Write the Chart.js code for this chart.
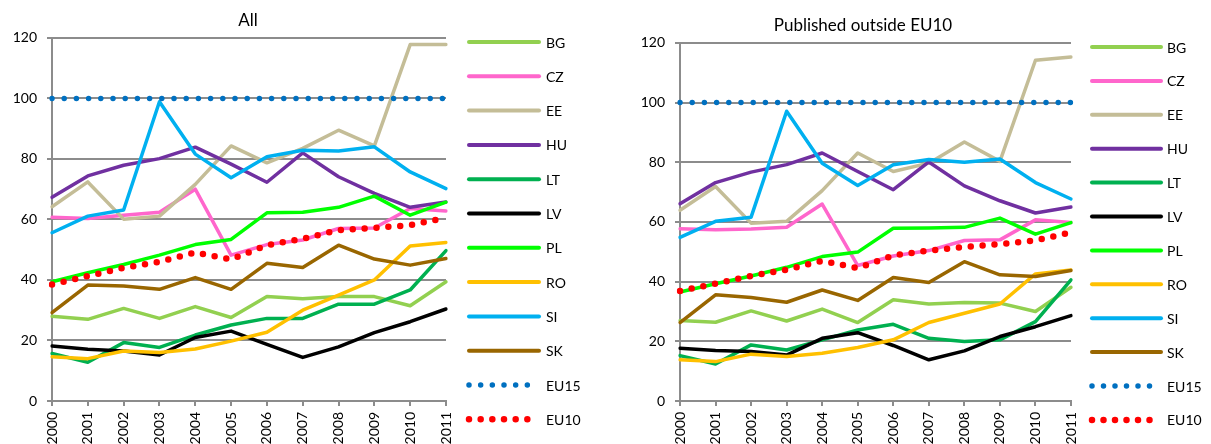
<!DOCTYPE html>
<html>
<head>
<meta charset="utf-8">
<script src="https://cdn.jsdelivr.net/npm/chart.js@4/dist/chart.umd.min.js"></script>
<style>
  html, body { margin: 0; padding: 0; background: #fff; }
  #wrap { position: relative; width: 1211px; height: 444px; overflow: hidden; }
  #wrap canvas { position: absolute; top: 0; }
</style>
</head>
<body>
<div id="wrap">
  <canvas id="cAll" width="605" height="444" style="left:0"></canvas>
  <canvas id="cOut" width="606" height="444" style="left:605px"></canvas>
</div>
<script>
// Years on the category axis
const years = ['2000','2001','2002','2003','2004','2005','2006','2007','2008','2009','2010','2011'];
const seriesNames = ['BG','CZ','EE','HU','LT','LV','PL','RO','SI','SK','EU15','EU10'];
const yTicks = [0, 20, 40, 60, 80, 100, 120];

// Panel "All"
const allBG   = [28.0, 27.0, 30.6, 27.3, 31.2, 27.6, 34.5, 33.8, 34.5, 34.5, 31.5, 39.4];
const allCZ   = [60.7, 60.3, 61.4, 62.4, 70.0, 48.2, 51.7, 53.2, 57.0, 57.2, 63.6, 62.8];
const allEE   = [64.2, 72.4, 60.1, 61.1, 71.6, 84.3, 78.7, 83.5, 89.5, 84.3, 117.8, 117.8];
const allHU   = [67.3, 74.4, 77.9, 80.1, 83.9, 78.3, 72.3, 82.0, 74.1, 68.6, 64.0, 65.8];
const allLT   = [15.7, 12.8, 19.3, 17.7, 21.8, 25.1, 27.3, 27.3, 32.0, 32.0, 36.7, 49.7];
const allLV   = [18.2, 17.1, 16.5, 15.2, 21.0, 23.1, 18.7, 14.4, 17.9, 22.6, 26.2, 30.4];
const allPL   = [39.4, 42.4, 45.1, 48.2, 51.7, 53.4, 62.2, 62.4, 64.0, 67.7, 61.4, 65.7];
const allRO   = [14.6, 14.0, 16.5, 16.0, 17.2, 19.8, 22.7, 30.0, 35.0, 40.0, 51.2, 52.4];
const allSI   = [55.6, 61.1, 63.1, 98.9, 81.6, 73.8, 80.7, 82.9, 82.6, 84.0, 75.7, 70.2];
const allSK   = [29.2, 38.3, 38.0, 36.9, 40.8, 36.9, 45.5, 44.1, 51.5, 46.9, 44.9, 47.1];
const allEU15 = [100, 100, 100, 100, 100, 100, 100, 100, 100, 100, 100, 100];
const allEU10 = [38.5, 41.3, 44.0, 46.0, 49.1, 46.8, 51.5, 53.6, 56.5, 57.2, 58.1, 60.6];

// Panel "Published outside EU10"
const outBG   = [27.0, 26.4, 30.2, 26.8, 30.8, 26.3, 33.9, 32.5, 33.0, 32.8, 30.0, 38.1];
const outCZ   = [57.7, 57.4, 57.6, 58.2, 66.0, 45.4, 48.6, 50.4, 53.8, 54.0, 60.7, 59.8];
const outEE   = [63.9, 71.9, 59.6, 60.2, 70.5, 83.1, 76.9, 79.7, 86.8, 80.3, 114.2, 115.3];
const outHU   = [66.1, 73.2, 76.7, 79.2, 83.1, 76.9, 70.8, 80.1, 72.1, 67.1, 63.0, 65.0];
const outLT   = [15.2, 12.4, 18.8, 17.1, 20.5, 23.8, 25.7, 21.0, 19.9, 20.5, 26.6, 40.6];
const outLV   = [17.7, 16.9, 16.6, 15.4, 21.0, 22.9, 18.6, 13.8, 16.8, 21.6, 24.9, 28.6];
const outPL   = [36.5, 39.3, 41.9, 44.8, 48.4, 49.9, 57.9, 58.0, 58.2, 61.3, 55.9, 59.8];
const outRO   = [13.8, 13.2, 15.7, 14.9, 16.0, 17.9, 20.5, 26.3, 29.4, 32.5, 42.6, 43.9];
const outSI   = [54.8, 60.2, 61.6, 97.1, 79.7, 72.2, 79.2, 80.9, 80.0, 81.1, 73.2, 67.7];
const outSK   = [26.3, 35.6, 34.7, 33.1, 37.2, 33.7, 41.4, 39.7, 46.7, 42.3, 41.7, 43.7];
const outEU15 = [100, 100, 100, 100, 100, 100, 100, 100, 100, 100, 100, 100];
const outEU10 = [36.9, 39.3, 41.9, 44.0, 47.0, 44.5, 48.8, 50.4, 51.6, 52.6, 53.8, 56.5];

const allValues = [allBG, allCZ, allEE, allHU, allLT, allLV, allPL, allRO, allSI, allSK, allEU15, allEU10];
const outValues = [outBG, outCZ, outEE, outHU, outLT, outLV, outPL, outRO, outSI, outSK, outEU15, outEU10];

const palette = {
  BG: '#92D050', CZ: '#FF66CC', EE: '#C4BD97', HU: '#7030A0', LT: '#00B050', LV: '#000000',
  PL: '#00FF00', RO: '#FFC000', SI: '#00B0F0', SK: '#996600', EU15: '#0070C0', EU10: '#FF0000'
};
const dotted = { EU15: { width: 5.5, gap: 12.2 }, EU10: { width: 6.5, gap: 11.9 } };

const FONT = "Lato, 'Open Sans', sans-serif";
const GRID = '#8c8c8c';

function buildDatasets(values) {
  return seriesNames.map((name, i) => {
    const d = dotted[name];
    return {
      label: name,
      data: values[i],
      borderColor: palette[name],
      backgroundColor: palette[name],
      borderWidth: d ? d.width : 3.5,
      borderDash: d ? [0, d.gap] : [],
      borderCapStyle: 'round',
      borderJoinStyle: 'round',
      pointRadius: 0,
      pointHoverRadius: 0,
      tension: 0,
      fill: false,
      order: -i
    };
  });
}

// Legend column drawn beside the plot: line sample + series name per row
const sideLegend = {
  id: 'sideLegend',
  afterDraw(chart, args, opts) {
    const ctx = chart.ctx;
    ctx.save();
    chart.data.datasets.forEach((ds, i) => {
      const y = opts.y0 + i * opts.dy;
      ctx.beginPath();
      ctx.strokeStyle = ds.borderColor;
      ctx.lineCap = 'round';
      if (ds.borderDash && ds.borderDash.length) {
        const span = opts.x1 - opts.x0;
        ctx.lineWidth = ds.borderWidth;
        ctx.setLineDash([0, span / 6]);
      } else {
        ctx.lineWidth = 4;
        ctx.setLineDash([]);
      }
      ctx.moveTo(opts.x0, y);
      ctx.lineTo(opts.x1, y);
      ctx.stroke();
      ctx.setLineDash([]);
      ctx.fillStyle = '#000';
      ctx.font = '14px ' + FONT;
      ctx.textBaseline = 'middle';
      ctx.textAlign = 'left';
      ctx.fillText(ds.label, opts.tx, y + 1);
    });
    ctx.restore();
  }
};

// Places the title block so its text is centred on a given x
const titleCentre = {
  id: 'titleCentre',
  afterLayout(chart, args, opts) {
    const tb = chart.titleBlock;
    if (!tb || opts.x == null) return;
    const half = (tb.right - tb.left) / 2;
    tb.left = opts.x - half;
    tb.right = opts.x + half;
  }
};

function makeChart(id, title, values, cfg) {
  return new Chart(document.getElementById(id), {
    type: 'line',
    data: { labels: years, datasets: buildDatasets(values) },
    plugins: [titleCentre, sideLegend],
    options: {
      responsive: false,
      devicePixelRatio: 1,
      animation: false,
      events: [],
      layout: { padding: { left: cfg.padLeft, right: cfg.padRight, top: 0, bottom: 0 } },
      plugins: {
        legend: { display: false },
        tooltip: { enabled: false },
        title: {
          display: true,
          text: title,
          color: '#000',
          font: { family: FONT, size: 17, weight: 'normal', lineHeight: 1.2 },
          padding: cfg.titlePad
        },
        titleCentre: { x: cfg.titleX },
        sideLegend: cfg.legend
      },
      scales: {
        x: {
          offset: false,
          afterFit(scale) { scale.height = 43; },
          grid: { display: true, drawOnChartArea: false, drawTicks: true, tickLength: 5, color: GRID, lineWidth: 2 },
          border: { display: true, color: GRID, width: 2 },
          ticks: {
            autoSkip: false, minRotation: 90, maxRotation: 90, padding: 6,
            color: '#000', font: { family: FONT, size: 14 }
          }
        },
        y: {
          min: 0, max: 120,
          afterFit(scale) { scale.width = cfg.yWidth; },
          afterBuildTicks(scale) { scale.ticks = yTicks.map(v => ({ value: v })); },
          grid: { display: true, drawTicks: true, tickLength: 5, color: GRID, lineWidth: 2 },
          border: { display: true, color: GRID, width: 2 },
          ticks: { padding: 10, color: '#000', font: { family: FONT, size: 14 } }
        }
      }
    }
  });
}

makeChart('cAll', 'All', allValues, {
  padLeft: 6, padRight: 159, yWidth: 46, titleX: 248,
  titlePad: { top: 10.5, bottom: 7 },
  legend: { x0: 469, x1: 539, tx: 546, y0: 42, dy: 34.3 }
});

makeChart('cOut', 'Published outside EU10', outValues, {
  padLeft: 29, padRight: 140, yWidth: 46, titleX: 258,
  titlePad: { top: 15, bottom: 7.5 },
  legend: { x0: 487, x1: 556, tx: 562, y0: 47, dy: 33.9 }
});
</script>
</body>
</html>
